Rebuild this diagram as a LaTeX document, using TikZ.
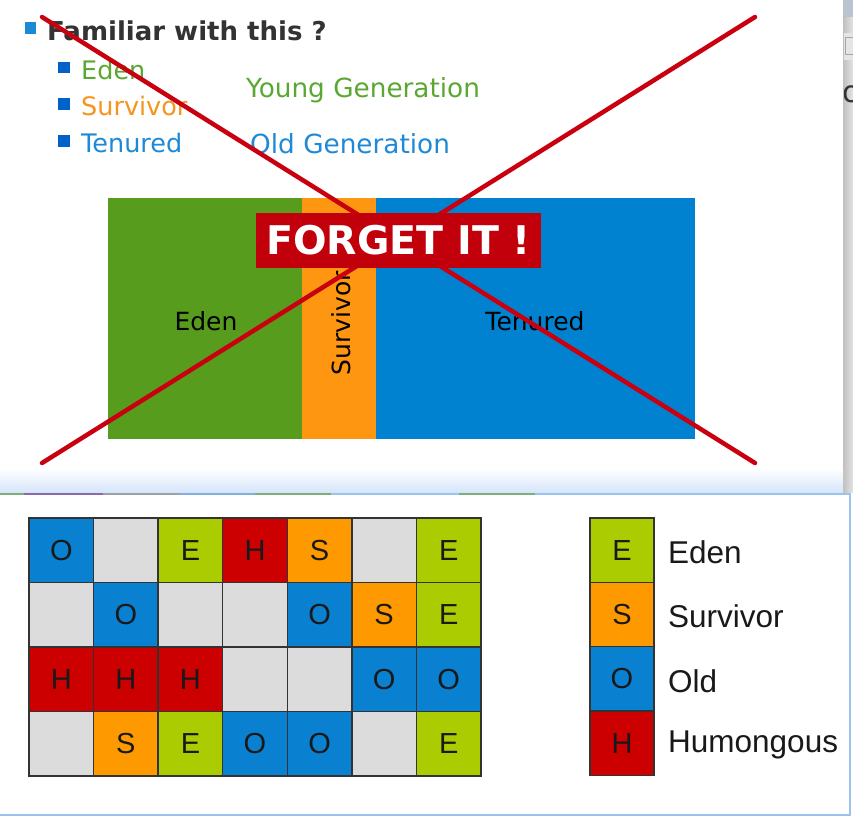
\documentclass[tikz,border=0pt]{standalone}
\usepackage{fontspec}
\setmainfont{DejaVu Sans}
\newfontfamily\arialf{Liberation Sans}
\definecolor{tGreen}{HTML}{5AA832}
\definecolor{tOrange}{HTML}{F7941D}
\definecolor{tBlue}{HTML}{1E8AD6}
\definecolor{tDark}{HTML}{333333}
\definecolor{bulA}{HTML}{1A8AD4}
\definecolor{bulB}{HTML}{0062C8}
\definecolor{bGreen}{HTML}{589C1E}
\definecolor{bOrange}{HTML}{FF9612}
\definecolor{bBlue}{HTML}{0082D0}
\definecolor{banRed}{HTML}{C2000C}
\definecolor{xRed}{HTML}{C8000F}
\definecolor{gE}{HTML}{AACC00}
\definecolor{gS}{HTML}{FF9900}
\definecolor{gO}{HTML}{0A80D0}
\definecolor{gH}{HTML}{CC0000}
\definecolor{gX}{HTML}{DCDCDC}
\definecolor{frameBlue}{HTML}{9CC3EE}
\definecolor{stripGray}{HTML}{E4E4E4}
\definecolor{stripTop}{HTML}{B9C4D0}
\definecolor{segA}{HTML}{7FB07A}
\definecolor{segB}{HTML}{8C6AA8}
\definecolor{segC}{HTML}{A0A0A8}
\definecolor{segD}{HTML}{86AEDC}
\tikzset{
  fs/.style={font=\fontsize{#1}{#1}\selectfont},
  toptext/.style={anchor=base west, inner sep=0pt, fs=25.5},
  boxlabel/.style={inner sep=0pt, fs=25, text=black},
  crossline/.style={draw=xRed, line width=4.5pt, line cap=round},
  cell/.style={draw=black!80, line width=1.4pt, minimum width=64.57pt, minimum height=64.5pt, inner sep=0pt, font=\arialf\fontsize{29}{29}\selectfont, text=black!90},
  lcell/.style={cell, minimum width=64.3pt, minimum height=64.3pt},
  cellO/.style={fill=gO}, cellE/.style={fill=gE}, cellS/.style={fill=gS}, cellH/.style={fill=gH}, cellX/.style={fill=gX},
  legtext/.style={anchor=west, inner sep=0pt, font=\arialf\fontsize{31.5}{31.5}\selectfont, text=black!90}
}
\begin{document}
\begin{tikzpicture}[x=1pt,y=-1pt]
\useasboundingbox (0,0) rectangle (853,823);
\fill[white] (0,0) rectangle (853,823);
% right window strip
\shade[left color=black!25, right color=stripGray] (843,0) rectangle (853,492);
\fill[stripTop] (844,0) rectangle (853,17);
\fill[black!10] (844,33) rectangle (853,60);
\draw[black!35, line width=0.6pt] (845,37) rectangle (853,54);
\begin{scope}
\clip (844,60) rectangle (853,120);
\node[anchor=base west, inner sep=0pt, fs=30, text=tDark] (frag) at (842,102) {or};
\end{scope}
% top panel shadow
\shade[top color=white, bottom color={rgb,255:red,214;green,230;blue,250}] (0,468) rectangle (843,492);
% title and bullets
\fill[bulA] (25,22) rectangle (36,34);
\node[anchor=base west, inner sep=0pt, text=tDark, font={\bfseries\fontsize{26}{26}\selectfont}] (title) at (47,40) {Familiar with this ?};
\fill[bulB] (58,62) rectangle (70,73);
\fill[bulB] (58,98) rectangle (70,110);
\fill[bulB] (58,135) rectangle (70,147);
\node[toptext, text=tGreen] (eden) at (81,79) {Eden};
\node[toptext, text=tOrange] (surv) at (81,115) {Survivor};
\node[toptext, text=tBlue] (ten) at (81,152) {Tenured};
\node[toptext, text=tGreen, fs=26.3] (young) at (246,97) {Young Generation};
\node[toptext, text=tBlue, fs=26.3] (old) at (250,153) {Old Generation};
% generations box
\fill[bGreen] (108,198) rectangle (302,439);
\fill[bOrange] (302,198) rectangle (376,439);
\fill[bBlue] (376,198) rectangle (695,439);
\node[boxlabel] (bEden) at (206,321) {Eden};
\node[boxlabel, rotate=90] (bSurv) at (341,323) {Survivor};
\node[boxlabel] (bTen) at (535,321) {Tenured};
% red cross
\coordinate (xa) at (42,17);
\coordinate (xb) at (755,463);
\coordinate (xc) at (42,463);
\coordinate (xd) at (755,17);
\draw[crossline] (xa) -- (xb);
\draw[crossline] (xc) -- (xd);
% banner
\node[fill=banRed, minimum width=285pt, minimum height=55pt, inner sep=0pt, text=white, font=\bfseries\fontsize{39.5}{39.5}\selectfont] (banner) at (398.5,240.5) {FORGET IT !};
% bottom panel
\fill[white] (0,494) rectangle (850,815);
\draw[frameBlue, line width=2pt] (-2,494) -- (850,494) -- (850,815) -- (-2,815);
\foreach \a/\b/\c in {0/24/segA, 24/103/segB, 103/179/segC, 179/255/segD, 255/331/segA, 459/535/segA}
  \draw[\c, line width=2pt] (\a,494) -- (\b,494);
% grid
\foreach \row [count=\r] in {{O/O,X/,E/E,H/H,S/S,X/,E/E},{X/,O/O,X/,X/,O/O,S/S,E/E},{H/H,H/H,H/H,X/,X/,O/O,O/O},{X/,S/S,E/E,O/O,O/O,X/,E/E}} {
  \foreach \t/\l [count=\i] in \row {
    \node[cell, cell\t] (g-\r-\i) at ({29+(\i-0.5)*64.57},{518+(\r-0.5)*64.5}) {\l};
  }
}
% legend
\foreach \t/\lab [count=\k] in {E/Eden,S/Survivor,O/Old,H/Humongous} {
  \node[lcell, cell\t] (l-\k) at (622,{518+(\k-0.5)*64.3}) {\t};
  \node[legtext] (lt-\k) at (668,{518+(\k-0.5)*64.3+2}) {\lab};
}
\end{tikzpicture}
\end{document}
